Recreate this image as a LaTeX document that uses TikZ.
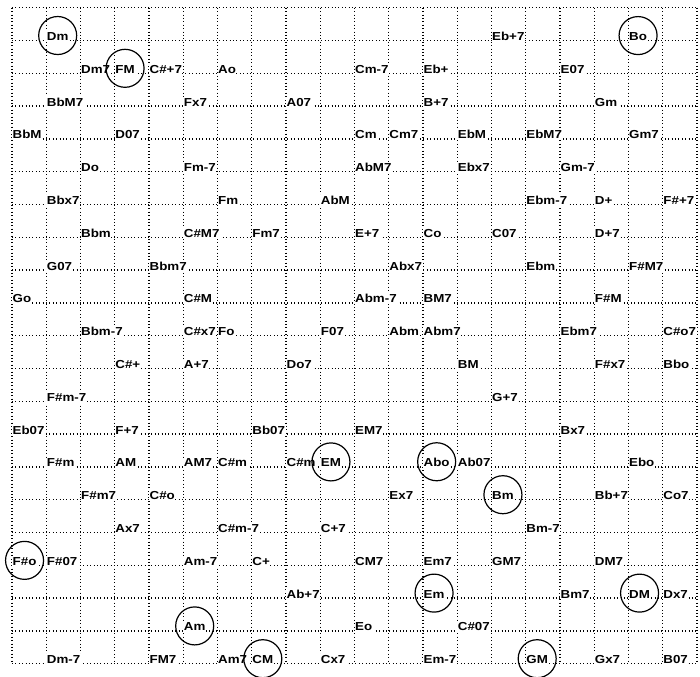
\documentclass[tikz,border=0pt]{standalone}
\usepackage{fontspec}
\newfontfamily\chordfont[FakeStretch=1.15]{Liberation Sans}
\begin{document}
\begin{tikzpicture}[x=34.25pt, y=-32.8pt,
  gridline/.style={line width=1.3pt, dash pattern=on 1.1pt off 2.3pt},
  chord/.style={anchor=base west, fill=white, inner xsep=0.5pt, inner ysep=1.3pt,
    font={\chordfont\bfseries\fontsize{11.6}{12}\selectfont}},
  ring/.style={line width=1.2pt}]
\useasboundingbox (-0.350,-0.235) rectangle (20.088,20.405);
% Dotted grid
\foreach \k in {0,...,20} \draw[gridline] (\k,0) -- (\k,20);
\foreach \r in {0,...,20} \draw[gridline] (0,\r) -- (20,\r);
% Chord names on the grid
\foreach \c/\r/\t in {14/1/Eb+7,
  2/2/Dm7, 4/2/C\#+7, 6/2/Ao, 10/2/Cm-7, 12/2/Eb+, 16/2/E07,
  1/3/BbM7, 5/3/Fx7, 8/3/A07, 12/3/B+7, 17/3/Gm,
  0/4/BbM, 3/4/D07, 10/4/Cm, 11/4/Cm7, 13/4/EbM, 15/4/EbM7, 18/4/Gm7,
  2/5/Do, 5/5/Fm-7, 10/5/AbM7, 13/5/Ebx7, 16/5/Gm-7,
  1/6/Bbx7, 6/6/Fm, 9/6/AbM, 15/6/Ebm-7, 17/6/D+, 19/6/F\#+7,
  2/7/Bbm, 5/7/C\#M7, 7/7/Fm7, 10/7/E+7, 12/7/Co, 14/7/C07, 17/7/D+7,
  1/8/G07, 4/8/Bbm7, 11/8/Abx7, 15/8/Ebm, 18/8/F\#M7,
  0/9/Go, 5/9/C\#M, 10/9/Abm-7, 12/9/BM7, 17/9/F\#M,
  2/10/Bbm-7, 5/10/C\#x7, 6/10/Fo, 9/10/F07, 11/10/Abm, 12/10/Abm7, 16/10/Ebm7, 19/10/C\#o7,
  3/11/C\#+, 5/11/A+7, 8/11/Do7, 13/11/BM, 17/11/F\#x7, 19/11/Bbo,
  1/12/F\#m-7, 14/12/G+7,
  0/13/Eb07, 3/13/F+7, 7/13/Bb07, 10/13/EM7, 16/13/Bx7,
  1/14/F\#m, 3/14/AM, 5/14/AM7, 6/14/C\#m, 8/14/C\#m, 13/14/Ab07, 18/14/Ebo,
  2/15/F\#m7, 4/15/C\#o, 11/15/Ex7, 17/15/Bb+7, 19/15/Co7,
  3/16/Ax7, 6/16/C\#m-7, 9/16/C+7, 15/16/Bm-7,
  1/17/F\#07, 5/17/Am-7, 7/17/C+, 10/17/CM7, 12/17/Em7, 14/17/GM7, 17/17/DM7,
  8/18/Ab+7, 16/18/Bm7, 19/18/Dx7,
  10/19/Eo, 13/19/C\#07,
  1/20/Dm-7, 4/20/FM7, 6/20/Am7, 9/20/Cx7, 12/20/Em-7, 17/20/Gx7, 19/20/B07}
  \node[chord] (c\c-\r) at (\c,\r) {\t};
% Circled chords
\foreach \c/\r/\t in {1/1/Dm, 18/1/Bo, 3/2/FM, 9/14/EM, 12/14/Abo, 14/15/Bm,
  0/17/F\#o, 12/18/Em, 18/18/DM, 5/19/Am, 7/20/CM, 15/20/GM}
{
  \node[chord] (c\c-\r) at (\c,\r) {\t};
  \draw[ring] ([yshift=1pt]c\c-\r.center) circle (19pt);
}
\end{tikzpicture}
\end{document}
